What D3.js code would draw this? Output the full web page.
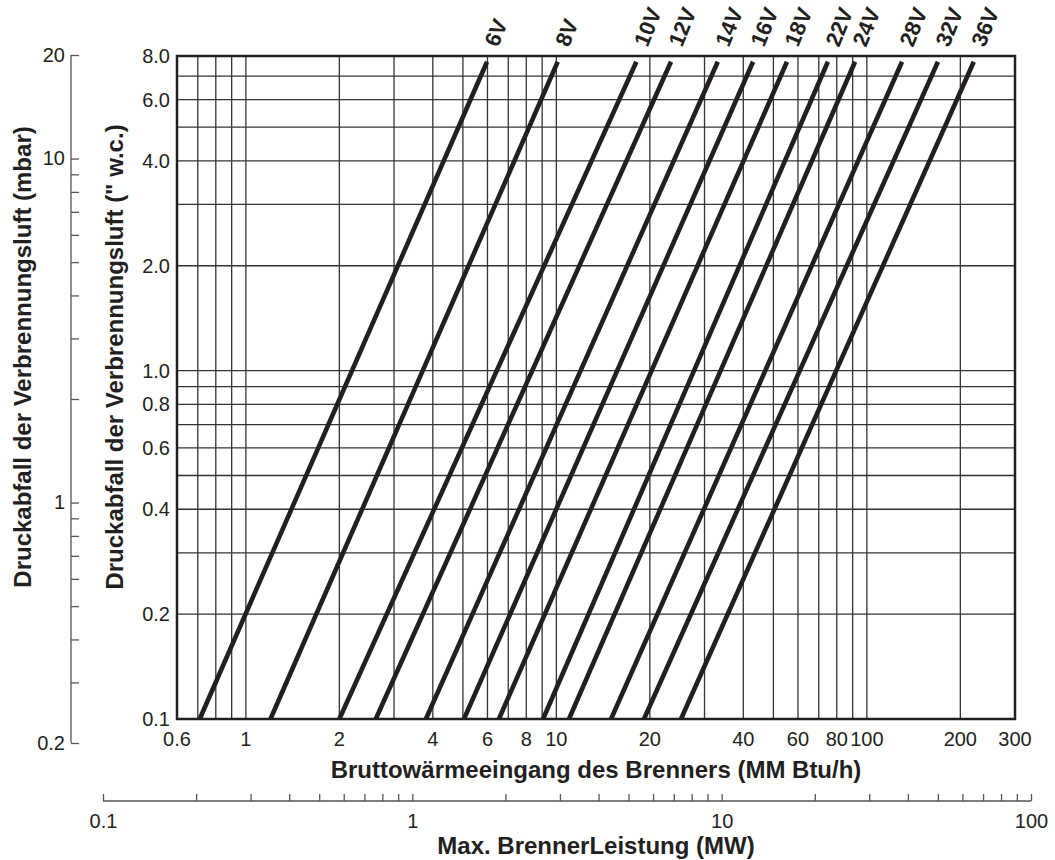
<!DOCTYPE html>
<html>
<head>
<meta charset="utf-8">
<script src="https://cdn.jsdelivr.net/npm/d3@7"></script>
<style>
  body { margin: 0; background: #fff; }
  svg text { font-family: "Liberation Sans", Arial, sans-serif; fill: #231f20; }
</style>
</head>
<body>
<script>
// burner sizes, flow at 0.1" w.c. and at the top end of each line (MM Btu/h)
const sizes = ["6V", "8V", "10V", "12V", "14V", "16V", "18V", "22V", "24V", "28V", "32V", "36V"];
const flowLow = [0.71, 1.20, 2.0, 2.62, 3.8, 5.04, 6.53, 9.06, 10.98, 15.0, 19.15, 25.2];
const flowHigh = [5.98, 10.1, 18.1, 23.4, 33.1, 43.0, 55.3, 74.9, 91.6, 129.8, 169.4, 221];
const pressureEnds = [0.1, 7.7];

// grid + tick values
const xGrid = [0.6, 0.7, 0.8, 0.9, 1, 2, 3, 4, 5, 6, 7, 8, 9, 10, 20, 30, 40, 50, 60, 70, 80, 90, 100, 200, 300];
const xLabels = [0.6, 1, 2, 4, 6, 8, 10, 20, 40, 60, 80, 100, 200, 300];
const yGrid = [0.1, 0.2, 0.3, 0.4, 0.5, 0.6, 0.7, 0.8, 0.9, 1, 2, 3, 4, 5, 6, 7, 8];
const yLabels = [0.1, 0.2, 0.4, 0.6, 0.8, 1, 2, 4, 6, 8];
const mbarTicks = [0.2, 0.3, 0.4, 0.5, 0.6, 0.7, 0.8, 0.9, 1, 2, 3, 4, 5, 6, 7, 8, 9, 10, 20];
const mbarLabels = [0.2, 1, 10, 20];
const mwTicks = [0.1, 0.2, 0.3, 0.4, 0.5, 0.6, 0.7, 0.8, 0.9, 1, 2, 3, 4, 5, 6, 7, 8, 9, 10, 20, 30, 40, 50, 60, 70, 80, 90, 100];
const mwLabels = [0.1, 1, 10, 100];

let width = 1055;
let height = 860;
let plot = {left: 177, right: 1015, top: 56, bottom: 719};
let tickFont = '20px';
let titleFont = '24px';

let svg = d3.select('body').append('svg')
    .attr('width', width)
    .attr('height', height);

let xScale = d3.scaleLog().domain([0.6, 300]).range([plot.left, plot.right]);
let yScale = d3.scaleLog().domain([0.1, 8]).range([plot.bottom, plot.top]);
let mbarScale = d3.scaleLog().domain([0.2, 20]).range([743, 55]);
let mwScale = d3.scaleLog().domain([0.1, 100]).range([103, 1031]);

// grid lines
svg.append('g').selectAll('line.vx')
    .data(xGrid).enter().append('line')
    .attr('x1', d => xScale(d)).attr('x2', d => xScale(d))
    .attr('y1', plot.top).attr('y2', plot.bottom)
    .attr('stroke', '#333').attr('stroke-width', 1.3);

svg.append('g').selectAll('line.hy')
    .data(yGrid).enter().append('line')
    .attr('x1', plot.left).attr('x2', plot.right)
    .attr('y1', d => yScale(d)).attr('y2', d => yScale(d))
    .attr('stroke', '#333').attr('stroke-width', 1.3);

// frame
svg.append('rect')
    .attr('x', plot.left).attr('y', plot.top)
    .attr('width', plot.right - plot.left).attr('height', plot.bottom - plot.top)
    .attr('fill', 'none').attr('stroke', '#231f20').attr('stroke-width', 2.5);

// tick labels on the plot
svg.append('g').selectAll('text')
    .data(xLabels).enter().append('text')
    .attr('x', d => xScale(d)).attr('y', 746)
    .attr('text-anchor', 'middle')
    .style('font-size', tickFont)
    .text(d => d);

svg.append('g').selectAll('text')
    .data(yLabels).enter().append('text')
    .attr('x', 170).attr('y', d => yScale(d))
    .attr('dy', '0.35em')
    .attr('text-anchor', 'end')
    .style('font-size', tickFont)
    .text(d => d3.format('.1f')(d));

// burner lines
let line = d3.line().x(d => xScale(d[0])).y(d => yScale(d[1]));
sizes.forEach(function(s, i) {
    let pts = [[flowLow[i], pressureEnds[0]], [flowHigh[i], pressureEnds[1]]];
    svg.append('path')
        .attr('d', line(pts))
        .attr('fill', 'none')
        .attr('stroke', '#231f20')
        .attr('stroke-width', 4.6);
    svg.append('text')
        .attr('transform', 'translate(' + (xScale(flowHigh[i]) + 11) + ',48) rotate(-68)')
        .style('font-size', '22px')
        .style('font-weight', 'bold')
        .text(s);
});

// mbar axis (left)
let mbarAxis = d3.axisLeft(mbarScale)
    .tickValues(mbarTicks)
    .tickSize(-8)
    .tickPadding(6)
    .tickFormat(d => mbarLabels.includes(d) ? d : '');
let ga = svg.append('g').attr('transform', 'translate(71,0)').call(mbarAxis);
ga.select('.domain').attr('d', 'M0,' + mbarScale(0.2) + 'V' + mbarScale(20)).attr('stroke', '#555').attr('stroke-width', 1.3);
ga.selectAll('.tick line').attr('stroke', '#555').attr('stroke-width', 1.3);
ga.selectAll('.tick text').style('font-size', tickFont).attr('fill', '#231f20').style('font-family', '"Liberation Sans", Arial, sans-serif');

// MW axis (bottom)
let mwAxis = d3.axisBottom(mwScale)
    .tickValues(mwTicks)
    .tickSize(-7)
    .tickPadding(13)
    .tickFormat(d => mwLabels.includes(d) ? d : '');
let gb = svg.append('g').attr('transform', 'translate(0,801)').call(mwAxis);
gb.select('.domain').attr('d', 'M' + mwScale(0.1) + ',0H' + mwScale(100)).attr('stroke', '#555').attr('stroke-width', 1.3);
gb.selectAll('.tick line').attr('stroke', '#555').attr('stroke-width', 1.3);
gb.selectAll('.tick text').style('font-size', tickFont).attr('fill', '#231f20').style('font-family', '"Liberation Sans", Arial, sans-serif');

// axis titles
svg.append('text')
    .attr('x', (plot.left + plot.right) / 2).attr('y', 778)
    .attr('text-anchor', 'middle')
    .style('font-size', titleFont).style('font-weight', 'bold')
    .text('Bruttowärmeeingang des Brenners (MM Btu/h)');

svg.append('text')
    .attr('x', (plot.left + plot.right) / 2).attr('y', 854)
    .attr('text-anchor', 'middle')
    .style('font-size', titleFont).style('font-weight', 'bold')
    .text('Max. BrennerLeistung (MW)');

svg.append('text')
    .attr('transform', 'translate(31,357) rotate(-90)')
    .attr('text-anchor', 'middle')
    .style('font-size', titleFont).style('font-weight', 'bold')
    .text('Druckabfall der Verbrennungsluft (mbar)');

svg.append('text')
    .attr('transform', 'translate(123,357) rotate(-90)')
    .attr('text-anchor', 'middle')
    .style('font-size', titleFont).style('font-weight', 'bold')
    .text('Druckabfall der Verbrennungsluft (" w.c.)');
</script>
</body>
</html>
